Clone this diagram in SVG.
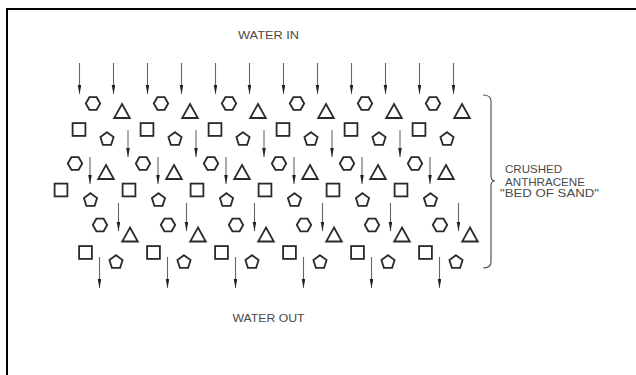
<svg xmlns="http://www.w3.org/2000/svg" xmlns:xlink="http://www.w3.org/1999/xlink" width="636" height="375" viewBox="0 0 636 375">
<style>
.p{fill:none;stroke:#2a2a2a;stroke-width:1.8;stroke-linejoin:miter}
.a{stroke:#666;stroke-width:1.1;marker-end:url(#ah)}
.t{font-family:"Liberation Sans",Arial,sans-serif;fill:#4a4a4a;font-size:10px}
.b{font-size:11px}
</style>
<defs>
<marker id="ah" markerUnits="userSpaceOnUse" markerWidth="10" markerHeight="4" refX="9" refY="1.8" orient="auto"><path d="M0,0 L9,1.8 L0,3.6 z" fill="#222"/></marker>
<polygon id="hex" class="p" points="-7.2,0 -3.6,-6.3 3.6,-6.3 7.2,0 3.6,6.3 -3.6,6.3"/>
<polygon id="tri" class="p" points="0,-7 7.8,7 -7.8,7"/>
<rect id="sq" class="p" x="-6.4" y="-6.4" width="12.8" height="12.8"/>
<polygon id="pent" class="p" points="0,-6.3 6.6,-1.5 4.1,6.3 -4.1,6.3 -6.6,-1.5"/>
</defs>
<rect width="636" height="375" fill="#fff"/>
<path d="M7,375 V9 H636" fill="none" stroke="#000" stroke-width="2"/>
<text class="t" x="238" y="38.5" textLength="61" lengthAdjust="spacingAndGlyphs">WATER IN</text>
<text class="t" x="232.5" y="321.5" textLength="72" lengthAdjust="spacingAndGlyphs">WATER OUT</text>
<g id="bed">
<use href="#hex" x="93" y="103.5"/><use href="#hex" x="161" y="103.5"/><use href="#hex" x="229" y="103.5"/><use href="#hex" x="297" y="103.5"/><use href="#hex" x="365" y="103.5"/><use href="#hex" x="433" y="103.5"/>
<use href="#tri" x="122" y="111"/><use href="#tri" x="190" y="111"/><use href="#tri" x="258" y="111"/><use href="#tri" x="326" y="111"/><use href="#tri" x="394" y="111"/><use href="#tri" x="462" y="111"/>
<use href="#sq" x="79" y="129.5"/><use href="#sq" x="147" y="129.5"/><use href="#sq" x="215" y="129.5"/><use href="#sq" x="283" y="129.5"/><use href="#sq" x="351" y="129.5"/><use href="#sq" x="419" y="129.5"/>
<use href="#pent" x="107" y="138.5"/><use href="#pent" x="175" y="138.5"/><use href="#pent" x="243" y="138.5"/><use href="#pent" x="311" y="138.5"/><use href="#pent" x="379" y="138.5"/><use href="#pent" x="447" y="138.5"/>
<use href="#hex" x="75" y="163.5"/><use href="#hex" x="143" y="163.5"/><use href="#hex" x="211" y="163.5"/><use href="#hex" x="279" y="163.5"/><use href="#hex" x="347" y="163.5"/><use href="#hex" x="415" y="163.5"/>
<use href="#tri" x="106" y="172"/><use href="#tri" x="174" y="172"/><use href="#tri" x="242" y="172"/><use href="#tri" x="310" y="172"/><use href="#tri" x="378" y="172"/><use href="#tri" x="446" y="172"/>
<use href="#sq" x="61" y="190"/><use href="#sq" x="129" y="190"/><use href="#sq" x="197" y="190"/><use href="#sq" x="265" y="190"/><use href="#sq" x="333" y="190"/><use href="#sq" x="401" y="190"/>
<use href="#pent" x="90.5" y="199.5"/><use href="#pent" x="158.5" y="199.5"/><use href="#pent" x="226.5" y="199.5"/><use href="#pent" x="294.5" y="199.5"/><use href="#pent" x="362.5" y="199.5"/><use href="#pent" x="430.5" y="199.5"/>
<use href="#hex" x="100" y="225"/><use href="#hex" x="168" y="225"/><use href="#hex" x="236" y="225"/><use href="#hex" x="304" y="225"/><use href="#hex" x="372" y="225"/><use href="#hex" x="440" y="225"/>
<use href="#tri" x="130" y="234.5"/><use href="#tri" x="198" y="234.5"/><use href="#tri" x="266" y="234.5"/><use href="#tri" x="334" y="234.5"/><use href="#tri" x="402" y="234.5"/><use href="#tri" x="470" y="234.5"/>
<use href="#sq" x="85.5" y="252.5"/><use href="#sq" x="153.5" y="252.5"/><use href="#sq" x="221.5" y="252.5"/><use href="#sq" x="289.5" y="252.5"/><use href="#sq" x="357.5" y="252.5"/><use href="#sq" x="425.5" y="252.5"/>
<use href="#pent" x="116" y="261.5"/><use href="#pent" x="184" y="261.5"/><use href="#pent" x="252" y="261.5"/><use href="#pent" x="320" y="261.5"/><use href="#pent" x="388" y="261.5"/><use href="#pent" x="456" y="261.5"/>
</g>
<g id="flow-arrows">
<line class="a" x1="79.5" y1="63" x2="79.5" y2="94"/><line class="a" x1="113.5" y1="63" x2="113.5" y2="94"/><line class="a" x1="147.5" y1="63" x2="147.5" y2="94"/><line class="a" x1="181.5" y1="63" x2="181.5" y2="94"/><line class="a" x1="215.5" y1="63" x2="215.5" y2="94"/><line class="a" x1="249.5" y1="63" x2="249.5" y2="94"/><line class="a" x1="283.5" y1="63" x2="283.5" y2="94"/><line class="a" x1="317.5" y1="63" x2="317.5" y2="94"/><line class="a" x1="351.5" y1="63" x2="351.5" y2="94"/><line class="a" x1="385.5" y1="63" x2="385.5" y2="94"/><line class="a" x1="419.5" y1="63" x2="419.5" y2="94"/><line class="a" x1="453.5" y1="63" x2="453.5" y2="94"/>
<line class="a" x1="128" y1="130" x2="128" y2="157"/><line class="a" x1="196" y1="130" x2="196" y2="157"/><line class="a" x1="264" y1="130" x2="264" y2="157"/><line class="a" x1="332" y1="130" x2="332" y2="157"/><line class="a" x1="400" y1="130" x2="400" y2="157"/>
<line class="a" x1="90" y1="157" x2="90" y2="184"/><line class="a" x1="158" y1="157" x2="158" y2="184"/><line class="a" x1="226" y1="157" x2="226" y2="184"/><line class="a" x1="294" y1="157" x2="294" y2="184"/><line class="a" x1="362" y1="157" x2="362" y2="184"/><line class="a" x1="430" y1="157" x2="430" y2="184"/>
<line class="a" x1="118.5" y1="203" x2="118.5" y2="231"/><line class="a" x1="186.5" y1="203" x2="186.5" y2="231"/><line class="a" x1="254.5" y1="203" x2="254.5" y2="231"/><line class="a" x1="322.5" y1="203" x2="322.5" y2="231"/><line class="a" x1="390.5" y1="203" x2="390.5" y2="231"/><line class="a" x1="458.5" y1="203" x2="458.5" y2="231"/>
<line class="a" x1="99.5" y1="257" x2="99.5" y2="288"/><line class="a" x1="167.5" y1="257" x2="167.5" y2="288"/><line class="a" x1="235.5" y1="257" x2="235.5" y2="288"/><line class="a" x1="303.5" y1="257" x2="303.5" y2="288"/><line class="a" x1="371.5" y1="257" x2="371.5" y2="288"/><line class="a" x1="439.5" y1="257" x2="439.5" y2="288"/>
</g>
<g id="bed-label">
<path d="M483,95 Q491,95 491,101 L491,176 Q491,181 495,181 Q491,181 491,186 L491,262 Q491,268 483,268" fill="none" stroke="#555" stroke-width="1.2"/>
<text class="t b" x="505" y="173" textLength="57" lengthAdjust="spacingAndGlyphs">CRUSHED</text>
<text class="t b" x="505" y="185.5" textLength="80" lengthAdjust="spacingAndGlyphs">ANTHRACENE</text>
<text class="t b" x="500" y="196.5" textLength="99" lengthAdjust="spacingAndGlyphs">"BED OF SAND"</text>
</g>
</svg>
